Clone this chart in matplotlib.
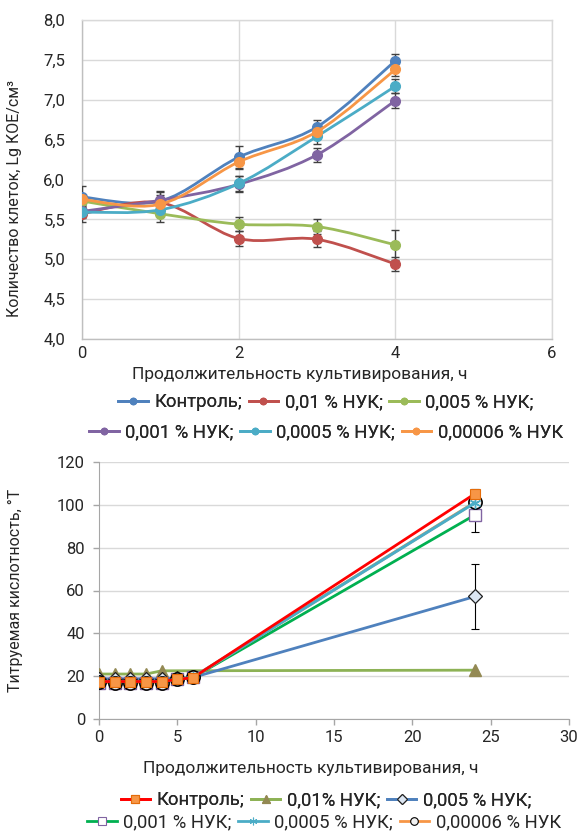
import matplotlib
matplotlib.use("Agg")
import matplotlib.pyplot as plt
import numpy as np
from matplotlib.path import Path
from matplotlib.patches import PathPatch
from matplotlib.lines import Line2D

plt.rcParams['font.family'] = ['Roboto', 'DejaVu Sans']

# ---------------- data: top chart ----------------
top_x = [0, 1, 2, 3, 4]
top_labels = ["Контроль;", "0,01 % НУК;", "0,005 % НУК;",
              "0,001 % НУК;", "0,0005 % НУК;", "0,00006 % НУК"]
top_control = [5.78, 5.73, 6.28, 6.66, 7.49]
top_001 = [5.57, 5.71, 5.26, 5.25, 4.94]
top_0005 = [5.73, 5.57, 5.44, 5.41, 5.18]
top_0001 = [5.60, 5.74, 5.94, 6.31, 6.99]
top_00005 = [5.59, 5.62, 5.95, 6.54, 7.17]
top_000006 = [5.75, 5.69, 6.22, 6.60, 7.38]
top_err_control = [0.14, 0.12, 0.14, 0.08, 0.08]
top_err_001 = [0.10, 0.10, 0.09, 0.10, 0.09]
top_err_0005 = [0.08, 0.10, 0.09, 0.09, 0.19]
top_err_0001 = [0.08, 0.10, 0.10, 0.09, 0.09]
top_err_00005 = [0.05, 0.05, 0.09, 0.09, 0.09]
top_err_000006 = [0.05, 0.05, 0.09, 0.05, 0.08]
top_yticks = [4.0, 4.5, 5.0, 5.5, 6.0, 6.5, 7.0, 7.5, 8.0]
top_yticklabels = ["4,0", "4,5", "5,0", "5,5", "6,0", "6,5", "7,0", "7,5", "8,0"]
top_xticks = [0, 2, 4, 6]

# ---------------- data: bottom chart ----------------
bot_labels = ["Контроль;", "0,01% НУК;", "0,005 % НУК;",
              "0,001 % НУК;", "0,0005 % НУК;", "0,00006 % НУК"]
bot_x = [0, 1, 2, 3, 4, 5, 6, 24]
bot_x_001 = [0, 1, 2, 3, 4, 24]
bot_control = [17.5, 17.5, 17.5, 17.5, 17.5, 18.5, 19.3, 105.2]
bot_001 = [21.0, 21.0, 21.0, 21.0, 22.5, 22.8]
bot_0005 = [18.8, 18.8, 18.8, 18.8, 18.8, 19.0, 19.4, 57.2]
bot_0001 = [17.0, 17.0, 17.0, 17.0, 17.0, 18.5, 19.4, 95.3]
bot_00005 = [17.5, 17.5, 17.5, 17.5, 17.5, 18.6, 19.5, 101.0]
bot_000006 = [17.2, 17.0, 17.0, 17.0, 17.0, 18.7, 19.5, 101.2]
bot_err_control = [1, 1, 1, 1, 1, 0.5, 0.5, 2.0]
bot_err_0005 = [1, 1, 1, 1, 1, 0.5, 0.5, 15.0]
bot_err_0001 = [1, 1, 1, 1, 1, 0.5, 0.5, 8.0]
bot_yticks = [0, 20, 40, 60, 80, 100, 120]
bot_xticks = [0, 5, 10, 15, 20, 25, 30]

fig = plt.figure(figsize=(5.81, 8.34), dpi=100)

W, H = 581.0, 834.0
def axrect(l, t, r, b):
    return [l / W, 1 - b / H, (r - l) / W, (b - t) / H]

GRID = '#D9D9D9'
TXT = '#262626'
TICKFS = 12
LABFS = 12.5
LEGFS = 13.3

# ---------------- top chart ----------------
ax1 = fig.add_axes(axrect(82, 20, 552, 339))
top_colors = ['#4F81BD', '#C0504D', '#9BBB59', '#8064A2', '#4BACC6', '#F79646']
top_series = [top_control, top_001, top_0005, top_0001, top_00005, top_000006]
top_errs = [top_err_control, top_err_001, top_err_0005, top_err_0001, top_err_00005, top_err_000006]


def smooth_patch(ax, xs, ys, color, lw, z):
    pts = np.column_stack([xs, ys]).astype(float)
    n = len(pts)
    verts = [tuple(pts[0])]
    codes = [Path.MOVETO]
    for i in range(n - 1):
        p0 = pts[max(i - 1, 0)]
        p1 = pts[i]
        p2 = pts[i + 1]
        p3 = pts[min(i + 2, n - 1)]
        c1 = p1 + (p2 - p0) / 6.0
        c2 = p2 - (p3 - p1) / 6.0
        verts += [tuple(c1), tuple(c2), tuple(p2)]
        codes += [Path.CURVE4] * 3
    patch = PathPatch(Path(verts, codes), fill=False, edgecolor=color,
                      lw=lw, zorder=z, capstyle='round', joinstyle='round')
    ax.add_patch(patch)

for i, (ys, es, c) in enumerate(zip(top_series, top_errs, top_colors)):
    ax1.errorbar(top_x, ys, yerr=es, fmt='none', ecolor='#404040',
                 elinewidth=1.0, capsize=3, capthick=1.0, zorder=3 + i * 0.1)
for i, (ys, c) in enumerate(zip(top_series, top_colors)):
    smooth_patch(ax1, top_x, ys, c, 2.0, 4 + i * 0.1)
    ax1.plot(top_x, ys, 'o', color=c, markersize=7, zorder=4.05 + i * 0.1)

ax1.set_xlim(0, 6)
ax1.set_ylim(4, 8)
ax1.set_xticks(top_xticks)
ax1.set_xticklabels([str(v) for v in top_xticks])
ax1.set_yticks(top_yticks)
ax1.set_yticklabels(top_yticklabels)
ax1.grid(True, color=GRID, lw=1.0, zorder=0)
ax1.set_axisbelow(True)
for s in ax1.spines.values():
    s.set_color(GRID)
    s.set_linewidth(1.0)
ax1.spines['left'].set_color('#BFBFBF')
ax1.spines['bottom'].set_color('#BFBFBF')
ax1.tick_params(length=0, labelsize=TICKFS, colors=TXT)
ax1.tick_params(axis='x', pad=5)
ax1.tick_params(axis='y', pad=12)
ax1.set_ylabel("Количество клеток, Lg КОЕ/см³", fontsize=11.5, color=TXT)
ax1.yaxis.set_label_coords(-0.127, 0.44)

fig.text(300 / W, 1 - 374 / H, "Продолжительность культивирования, ч",
         ha='center', va='center', fontsize=LABFS, color=TXT)

top_handles = [Line2D([], [], color=c, lw=2.0, marker='o', markersize=4.5)
               for c in top_colors]
leg1 = fig.legend(top_handles[:3], top_labels[:3], loc='center',
                  bbox_to_anchor=(326 / W, 1 - 402 / H), ncol=3, frameon=False,
                  fontsize=LEGFS, handlelength=1.6, handletextpad=0.35,
                  columnspacing=0.35, borderpad=0.1)
for t in leg1.get_texts():
    t.set_color(TXT)
leg2 = fig.legend(top_handles[3:], top_labels[3:], loc='center',
                  bbox_to_anchor=(326 / W, 1 - 432 / H), ncol=3, frameon=False,
                  fontsize=LEGFS, handlelength=1.6, handletextpad=0.35,
                  columnspacing=0.35, borderpad=0.1)
for t in leg2.get_texts():
    t.set_color(TXT)
fig.add_artist(leg1)

# ---------------- bottom chart ----------------
ax2 = fig.add_axes(axrect(99, 462, 569, 719))

# Control
ax2.errorbar(bot_x, bot_control, yerr=bot_err_control, fmt='none', ecolor='black',
             elinewidth=0.8, capsize=3, capthick=0.8, zorder=2)
l_c, = ax2.plot(bot_x, bot_control, '-', color='#FF0000', lw=2.0, marker='s',
                markersize=7.5, markerfacecolor='#F79646', markeredgecolor='#E46C0A',
                markeredgewidth=0.8, zorder=3.6)
# 0.01 %
l_001, = ax2.plot(bot_x_001, bot_001, '-', color='#8DB255', lw=2.0, marker='^',
                  markersize=9, markerfacecolor='#938953', markeredgecolor='#938953',
                  zorder=3.0)
# 0.005 %
ax2.errorbar(bot_x, bot_0005, yerr=bot_err_0005, fmt='none', ecolor='black',
             elinewidth=0.8, capsize=3, capthick=0.8, zorder=2)
l_0005, = ax2.plot(bot_x, bot_0005, '-', color='#4F81BD', lw=2.0, marker='D',
                   markersize=7, markerfacecolor='#DCE6F2', markeredgecolor='#1F1F1F',
                   markeredgewidth=0.9, zorder=3.1)
# 0.001 %
ax2.errorbar(bot_x, bot_0001, yerr=bot_err_0001, fmt='none', ecolor='black',
             elinewidth=0.8, capsize=3, capthick=0.8, zorder=2)
l_0001, = ax2.plot(bot_x, bot_0001, '-', color='#00B050', lw=2.0, marker='s',
                   markersize=8, markerfacecolor='white', markeredgecolor='#8064A2',
                   markeredgewidth=1.0, zorder=3.2)
# 0.0005 %
l_00005, = ax2.plot(bot_x, bot_00005, '-', color='#4BACC6', lw=2.2, marker=(6, 2, 0),
                    markersize=8, markeredgecolor='#4BACC6', markeredgewidth=1.0,
                    zorder=3.4)
# 0.00006 %
l_000006, = ax2.plot(bot_x, bot_000006, '-', color='#F79646', lw=2.2, marker='o',
                     markersize=9.5, markerfacecolor='#F2F2F2', markeredgecolor='black',
                     markeredgewidth=1.2, zorder=3.3)

ax2.set_xlim(0, 30)
ax2.set_ylim(0, 120)
ax2.set_xticks(bot_xticks)
ax2.set_yticks(bot_yticks)
ax2.set_xticklabels([str(v) for v in bot_xticks])
ax2.set_yticklabels([str(v) for v in bot_yticks])
ax2.grid(True, axis='y', color=GRID, lw=1.0, zorder=0)
ax2.set_axisbelow(True)
ax2.spines['top'].set_visible(False)
ax2.spines['right'].set_visible(False)
ax2.spines['left'].set_color('#A6A6A6')
ax2.spines['bottom'].set_color('#A6A6A6')
ax2.tick_params(axis='y', length=4, width=1.0, color='#A6A6A6', labelsize=TICKFS,
                labelcolor=TXT, pad=6)
ax2.tick_params(axis='x', length=4, width=1.0, color='#A6A6A6', labelsize=TICKFS,
                labelcolor=TXT, pad=4)
ax2.set_ylabel("Титруемая кислотность, °Т", fontsize=11.5, color=TXT)
ax2.yaxis.set_label_coords(-0.162, 0.5)

fig.text(311 / W, 1 - 768 / H, "Продолжительность культивирования, ч",
         ha='center', va='center', fontsize=LABFS, color=TXT)

bot_handles = [l_c, l_001, l_0005, l_0001, l_00005, l_000006]
small = []
for h in bot_handles:
    small.append(Line2D([], [], color=h.get_color(), lw=2.0, marker=h.get_marker(),
                        markersize=5.5, markerfacecolor=h.get_markerfacecolor(),
                        markeredgecolor=h.get_markeredgecolor(), markeredgewidth=0.8))
leg3 = fig.legend(small[:3], bot_labels[:3], loc='center',
                  bbox_to_anchor=(326 / W, 1 - 800 / H), ncol=3, frameon=False,
                  fontsize=LEGFS, handlelength=1.6, handletextpad=0.35,
                  columnspacing=0.35, borderpad=0.1)
for t in leg3.get_texts():
    t.set_color(TXT)
fig.add_artist(leg3)
leg4 = fig.legend(small[3:], bot_labels[3:], loc='center',
                  bbox_to_anchor=(324 / W, 1 - 822 / H), ncol=3, frameon=False,
                  fontsize=LEGFS, handlelength=1.6, handletextpad=0.35,
                  columnspacing=0.35, borderpad=0.1)
for t in leg4.get_texts():
    t.set_color(TXT)
fig.add_artist(leg2)

fig.savefig("out.png", dpi=100)
